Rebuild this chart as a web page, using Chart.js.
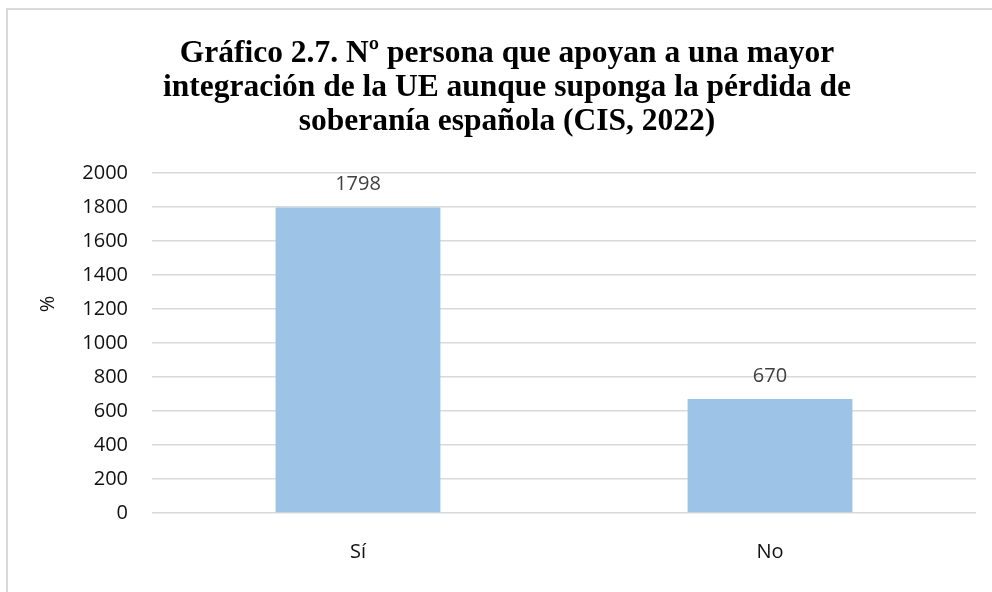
<!DOCTYPE html>
<html>
<head>
<meta charset="utf-8">
<script src="https://cdn.jsdelivr.net/npm/chart.js@4.4.1/dist/chart.umd.min.js"></script>
<style>
  html, body { margin: 0; padding: 0; background: #fff; overflow: hidden; }
  #frame {
    position: absolute; left: 6px; top: 8px;
    width: 1010px; height: 600px;
    border-left: 2px solid #d9d9d9; border-top: 2px solid #d9d9d9;
  }
</style>
</head>
<body>
<div id="frame"><canvas id="chart" width="1010" height="600"></canvas></div>
<script>
const categories = ['Sí', 'No'];
const values = [1798, 670];
const titleLines = [
  'Gráfico 2.7. Nº persona que apoyan a una mayor',
  'integración de la UE aunque suponga la pérdida de',
  'soberanía española (CIS, 2022)'
];
const yAxisLabel = '%';

const labelFont = '20px "Open Sans"';

// value labels above each bar
const barValues = {
  id: 'barValues',
  afterDatasetsDraw(chart) {
    const ctx = chart.ctx;
    const meta = chart.getDatasetMeta(0);
    ctx.save();
    ctx.font = labelFont;
    ctx.fillStyle = '#404040';
    ctx.textAlign = 'center';
    ctx.textBaseline = 'alphabetic';
    meta.data.forEach((bar, i) => {
      ctx.fillText(String(values[i]), bar.x, bar.y - 17);
    });
    ctx.restore();
  }
};

// rotated "%" axis title, sits near the 1200 line like the original
const axisLabel = {
  id: 'axisLabel',
  afterDraw(chart) {
    const ctx = chart.ctx;
    const y = chart.scales.y.getPixelForValue(1230);
    ctx.save();
    ctx.translate(40, y);
    ctx.rotate(-Math.PI / 2);
    ctx.font = labelFont;
    ctx.fillStyle = '#111';
    ctx.textAlign = 'center';
    ctx.textBaseline = 'middle';
    ctx.fillText(yAxisLabel, 0, 0);
    ctx.restore();
  }
};

new Chart(document.getElementById('chart'), {
  type: 'bar',
  data: {
    labels: categories,
    datasets: [{
      data: values,
      backgroundColor: '#9dc3e6',
      borderWidth: 0,
      categoryPercentage: 1,
      barPercentage: 0.4
    }]
  },
  options: {
    responsive: false,
    animation: false,
    layout: { padding: { left: 30, right: 42, top: 0, bottom: 27 } },
    plugins: {
      legend: { display: false },
      tooltip: { enabled: false },
      title: {
        display: true,
        text: titleLines,
        color: '#000',
        font: { family: '"Liberation Serif", "Times New Roman", serif', size: 31.5, weight: 'bold', lineHeight: 1.08 },
        padding: { top: 27, bottom: 34 }
      }
    },
    scales: {
      x: {
        grid: { display: false },
        border: { display: false },
        ticks: { color: '#111', font: { family: '"Open Sans"', size: 20 }, padding: 19 }
      },
      y: {
        min: 0,
        max: 2000,
        afterFit(scale) { scale.width = 114; },
        grid: { color: '#d9d9d9', lineWidth: 1.5, drawTicks: false },
        border: { display: false },
        ticks: {
          stepSize: 200,
          color: '#111',
          font: { family: '"Open Sans"', size: 20 },
          padding: 24,
          callback: v => String(v)
        }
      }
    }
  },
  plugins: [barValues, axisLabel]
});
</script>
</body>
</html>
